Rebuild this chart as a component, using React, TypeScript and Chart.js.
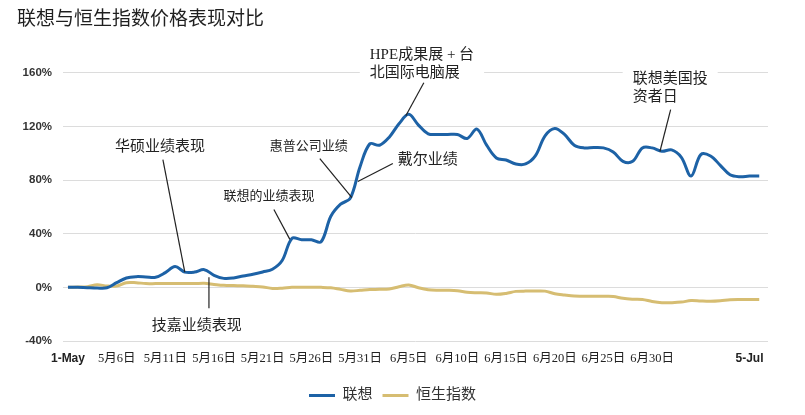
import React, { useEffect, useRef } from "react";
import { Chart, registerables } from "chart.js";

Chart.register(...registerables);

// one point per step on the horizontal axis, in % change since 1 May
const lenovo = [
  0, 0, -0.3, -0.5, -0.3, 3.5, 7, 8, 7.8, 7.5,
  11, 15.5, 11.4, 11.4, 13.2, 9, 6.7, 7, 8.5, 9.8,
  11.5, 13.5, 20, 36.5, 35.5, 35.5, 34, 53, 62, 66.5,
  90, 107, 106, 112, 122, 129, 121, 114.5, 114, 114,
  114, 111, 118, 106, 96.5, 95, 92, 92, 98, 113,
  118.5, 114, 106, 104, 104.3, 104, 101, 94, 94, 104,
  104, 101.5, 102.5, 97, 83, 99, 98, 91, 84, 82.5,
  83, 83,
];
const hangSeng = [
  0, 0.3, 0.5, 2, 1, 1, 3.5, 3.5, 2.8, 2.8,
  2.8, 2.8, 2.8, 2.8, 3, 2.2, 1.5, 1.3, 1.2, 0.8,
  0.3, -0.8, -0.6, 0, 0, 0, 0, -0.3, -1.5, -2.7,
  -2.2, -1.6, -1.5, -1.2, 0.5, 1.8, -0.3, -1.8, -2.2, -2.2,
  -2.5, -3.6, -4, -4.2, -5.2, -4.5, -3, -2.8, -2.7, -2.8,
  -4.7, -5.7, -6.5, -6.6, -6.7, -6.7, -6.8, -8.2, -8.8, -9,
  -10.5, -11.4, -11.4, -11, -9.8, -10.2, -10.4, -10, -9.2, -9,
  -9, -9,
];
const seriesNames = ["联想", "恒生指数"];
const tickPositions = [0, 5, 10, 15, 20, 25, 30, 35, 40, 45, 50, 55, 60, 70];
const tickLabels = [
  "1-May", "5月6日", "5月11日", "5月16日", "5月21日", "5月26日", "5月31日",
  "6月5日", "6月10日", "6月15日", "6月20日", "6月25日", "6月30日", "5-Jul",
];

const SERIF = "'Liberation Serif', 'Noto Sans CJK SC', serif";
const NARROW = "'Liberation Sans Narrow', 'Liberation Sans', Arial, sans-serif";
const BLUE = "#1d62a6";
const GOLD = "#d6bd72";
const LINE_H = 18;

// callouts: text anchor and leader line ends, all in data units
const notes = [
  { lines: ["华硕业绩表现"], at: [9.45, 104.9], align: "center", size: 15, from: [9.75, 95.3], to: [12, 11.3] },
  { lines: ["技嘉业绩表现"], at: [13.24, -28.8], align: "center", size: 15, from: [14.48, 7.6], to: [14.48, -15.5] },
  { lines: ["联想的业绩表现"], at: [20.64, 67.8], align: "center", size: 13, from: [21.15, 58.1], to: [22.79, 35.8] },
  { lines: ["惠普公司业绩"], at: [24.74, 104.9], align: "center", size: 13, from: [25.87, 96], to: [29.16, 67] },
  { lines: ["戴尔业绩"], at: [33.88, 95.3], align: "left", size: 15, from: [33.37, 92.3], to: [29.77, 78.9] },
  { lines: ["HPE成果展 + 台", "北国际电脑展"], at: [31.0, 173.4], align: "left", size: 15, from: [36.55, 152.6], to: [34.7, 128] },
  { lines: ["联想美国投", "资者日"], at: [58.0, 155.5], align: "left", size: 15, from: [61.9, 132.5], to: [60.8, 101.3] },
];

const noteBox = (ctx: CanvasRenderingContext2D, x: any, y: any, n: any) => {
  ctx.font = `${n.size}px ${SERIF}`;
  const px = x.getPixelForValue(n.at[0]);
  const py = y.getPixelForValue(n.at[1]);
  const w = Math.max(...n.lines.map((l: string) => ctx.measureText(l).width));
  const left = n.align === "center" ? px - w / 2 : px;
  return { px, py, w, left };
};

const notesPlugin = {
  id: "notes",
  beforeDatasetsDraw(chart: any) {
    const { ctx, scales: { x, y } } = chart;
    ctx.save();
    ctx.fillStyle = "#fff";
    notes.forEach((n) => {
      const b = noteBox(ctx, x, y, n);
      ctx.fillRect(b.left - 10, b.py - n.size / 2 - 3, b.w + 20, LINE_H * (n.lines.length - 1) + n.size + 6);
    });
    ctx.restore();
  },
  afterDatasetsDraw(chart: any) {
    const { ctx, scales: { x, y } } = chart;
    ctx.save();
    notes.forEach((n) => {
      const b = noteBox(ctx, x, y, n);
      ctx.fillStyle = "#222";
      ctx.textAlign = n.align;
      ctx.textBaseline = "middle";
      n.lines.forEach((l, i) => ctx.fillText(l, b.px, b.py + i * LINE_H));
      ctx.strokeStyle = "#222";
      ctx.lineWidth = 1.2;
      ctx.beginPath();
      ctx.moveTo(x.getPixelForValue(n.from[0]), y.getPixelForValue(n.from[1]));
      ctx.lineTo(x.getPixelForValue(n.to[0]), y.getPixelForValue(n.to[1]));
      ctx.stroke();
    });
    ctx.restore();
  },
};

const App: React.FC = () => {
  const chartRef = useRef<HTMLCanvasElement | null>(null);

  useEffect(() => {
    if (!chartRef.current) return;
    const ctx = chartRef.current.getContext("2d");
    if (!ctx) return;

    const chart = new Chart(ctx, {
      type: "line",
      data: {
        datasets: [
          {
            label: seriesNames[0],
            data: lenovo.map((v, i) => ({ x: i, y: v })),
            borderColor: BLUE,
            backgroundColor: BLUE,
            borderWidth: 3,
            pointRadius: 0,
            tension: 0.35,
          },
          {
            label: seriesNames[1],
            data: hangSeng.map((v, i) => ({ x: i, y: v })),
            borderColor: GOLD,
            backgroundColor: GOLD,
            borderWidth: 3,
            pointRadius: 0,
            tension: 0.35,
          },
        ],
      },
      options: {
        animation: false,
        responsive: true,
        maintainAspectRatio: false,
        layout: { padding: { left: 17, right: 37, top: 0, bottom: 2 } },
        scales: {
          x: {
            type: "linear",
            min: -0.51,
            max: 71.9,
            grid: { display: false, drawTicks: false },
            border: { display: false },
            afterBuildTicks: (axis: any) => {
              axis.ticks = tickPositions.map((v) => ({ value: v }));
            },
            afterFit: (axis: any) => {
              axis.height = 37;
            },
            ticks: {
              autoSkip: false,
              maxRotation: 0,
              padding: 10,
              color: "#222",
              callback: (_v: any, i: number) => tickLabels[i],
              font: (c: any) =>
                c.index === 0 || c.index === tickLabels.length - 1
                  ? { family: NARROW, size: 12, weight: "bold" }
                  : { family: SERIF, size: 12.5 },
            },
          },
          y: {
            min: -40,
            max: 160,
            grid: { color: "#dcdcdc", lineWidth: 1, drawTicks: false },
            border: { display: false },
            afterFit: (axis: any) => {
              axis.width = 46;
            },
            ticks: {
              stepSize: 40,
              padding: 11,
              color: "#333",
              font: { family: NARROW, size: 11.5, weight: "bold" },
              callback: (v: any) => `${v}%`,
            },
          },
        },
        plugins: {
          title: {
            display: true,
            text: "联想与恒生指数价格表现对比",
            align: "start",
            color: "#1f1f1f",
            font: { family: SERIF, size: 19, weight: "normal" },
            padding: { top: 9, bottom: 41 },
          },
          legend: {
            position: "bottom",
            labels: {
              usePointStyle: true,
              pointStyle: "line",
              pointStyleWidth: 26,
              color: "#333",
              padding: 10,
              font: { family: SERIF, size: 15 },
            },
          },
          tooltip: { enabled: false },
        },
      },
      plugins: [notesPlugin],
    });

    return () => {
      chart.destroy();
    };
  }, []);

  return (
    <div style={{ position: "fixed", left: 0, top: 0, width: 805, height: 415, background: "#fff" }}>
      <canvas ref={chartRef}></canvas>
    </div>
  );
};

export default App;
